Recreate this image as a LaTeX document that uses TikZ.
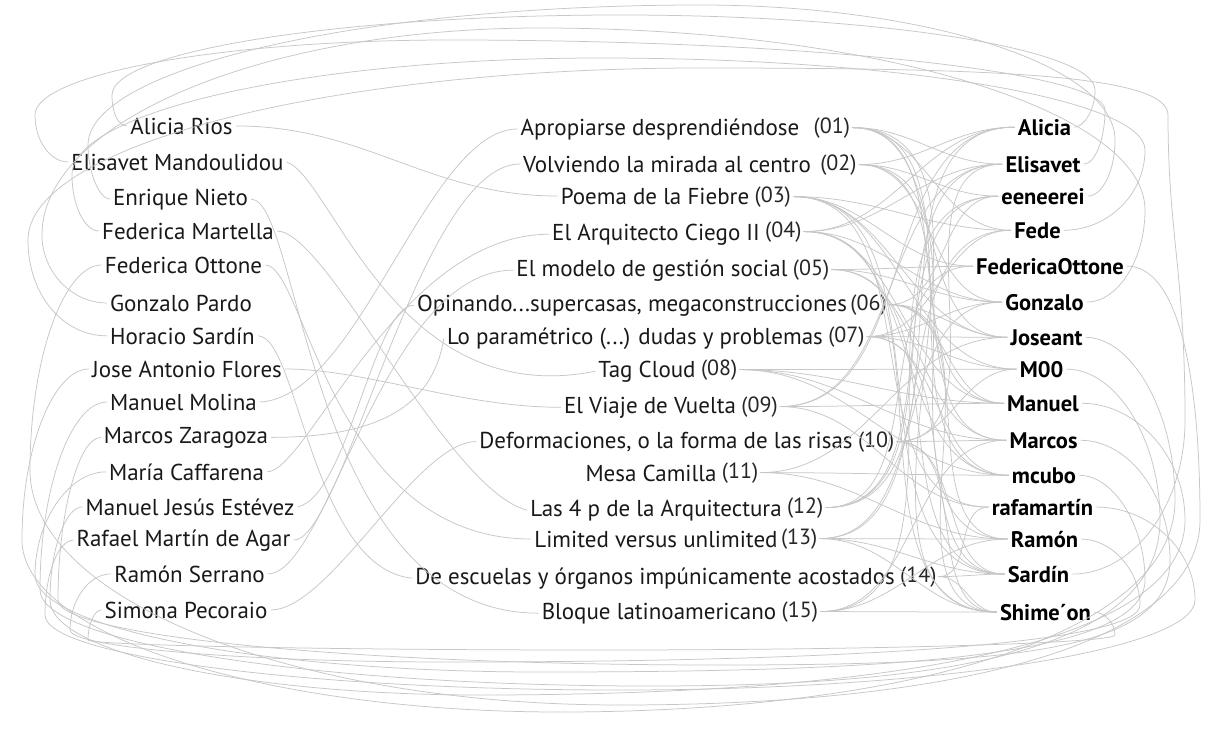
\documentclass[tikz,border=0pt]{standalone}
\usepackage{fontspec}
\setmainfont{PT Sans}
\begin{document}
\begin{tikzpicture}[x=1pt,y=-1pt,
  lname/.style={font=\fontsize{23}{26}\selectfont, text=black!90, inner sep=3pt, anchor=base},
  mname/.style={font=\fontsize{23}{26}\selectfont, text=black!90, inner sep=3pt, anchor=base},
  numlab/.style={font=\fontsize{22}{26}\selectfont, text=black!85, inner sep=2pt, anchor=base west},
  rname/.style={font=\fontsize{22.5}{26}\selectfont\bfseries, text=black, inner sep=3pt, anchor=base},
  edge/.style={draw=black!22, line width=0.75pt}]
\useasboundingbox (0,0) rectangle (1212,739);
\fill[white] (0,0) rectangle (1212,739);

% ---------- left column (authors)
\node[lname] (aRios)   at (181.5,134) {Alicia Rios};
\node[lname] (aMand)   at (177.5,170) {Elisavet Mandoulidou};
\node[lname] (aNieto)  at (180.5,205) {Enrique Nieto};
\node[lname] (aMart)   at (188,239) {Federica Martella};
\node[lname] (aOtt)    at (183.5,273) {Federica Ottone};
\node[lname] (aPardo)  at (181,311) {Gonzalo Pardo};
\node[lname] (aSardin) at (182.5,344) {Horacio Sardín};
\node[lname] (aFlores) at (187,377) {Jose Antonio Flores};
\node[lname] (aMolina) at (183.5,410) {Manuel Molina};
\node[lname] (aZara)   at (186,443) {Marcos Zaragoza};
\node[lname] (aCaff)   at (186.5,480) {María Caffarena};
\node[lname] (aEst)    at (190,515) {Manuel Jesús Estévez};
\node[lname] (aAgar)   at (183.5,546) {Rafael Martín de Agar};
\node[lname] (aSerr)   at (189.5,582) {Ramón Serrano};
\node[lname] (aPec)    at (186,618) {Simona Pecoraio};

% ---------- middle column (posts)
\node[mname] (t01) at (660,135) {Apropiarse desprendiéndose};
\node[mname] (t02) at (667,172) {Volviendo la mirada al centro};
\node[mname] (t03) at (655,204) {Poema de la Fiebre};
\node[mname] (t04) at (656,240) {El Arquitecto Ciego II};
\node[mname] (t05) at (652,276) {El modelo de gestión social};
\node[mname] (t06) at (632,311) {Opinando...supercasas, megaconstrucciones};
\node[mname] (t07) at (635,344) {Lo paramétrico (...) dudas y problemas};
\node[mname] (t08) at (647,377) {Tag Cloud};
\node[mname] (t09) at (650,413) {El Viaje de Vuelta};
\node[mname] (t10) at (666,448) {Deformaciones, o la forma de las risas};
\node[mname] (t11) at (651,481) {Mesa Camilla};
\node[mname] (t12) at (656,516) {Las 4 p de la Arquitectura};
\node[mname] (t13) at (656,547) {Limited versus unlimited};
\node[mname] (t14) at (655,584) {De escuelas y órganos impúnicamente acostados};
\node[mname] (t15) at (659,619) {Bloque latinoamericano};

\node[numlab] (n01) at ([xshift=9pt,yshift=2pt]t01.base east) {(01)};
\node[numlab] (n02) at ([xshift=4pt,yshift=2pt]t02.base east) {(02)};
\node[numlab] (n03) at ([yshift=2pt]t03.base east) {(03)};
\node[numlab] (n04) at ([yshift=3pt]t04.base east) {(04)};
\node[numlab] (n05) at ([yshift=1pt]t05.base east) {(05)};
\node[numlab] (n06) at ([xshift=-2pt,yshift=1pt]t06.base east) {(06)};
\node[numlab] (n07) at ([yshift=2pt]t07.base east) {(07)};
\node[numlab] (n08) at ([yshift=2pt]t08.base east) {(08)};
\node[numlab] (n09) at ([yshift=1pt]t09.base east) {(09)};
\node[numlab] (n10) at ([yshift=1pt]t10.base east) {(10)};
\node[numlab] (n11) at ([yshift=3pt]t11.base east) {(11)};
\node[numlab] (n12) at ([yshift=3pt]t12.base east) {(12)};
\node[numlab] (n13) at ([xshift=-2pt,yshift=3pt]t13.base east) {(13)};
\node[numlab] (n14) at ([yshift=2pt]t14.base east) {(14)};
\node[numlab] (n15) at ([yshift=2pt]t15.base east) {(15)};

% ---------- right column (commenters)
\node[rname] (rAlicia) at (1044.5,135) {Alicia};
\node[rname] (rElis)   at (1043,172) {Elisavet};
\node[rname] (rEene)   at (1043,204) {eeneerei};
\node[rname] (rFede)   at (1037.5,238) {Fede};
\node[rname] (rFO)     at (1050,274) {FedericaOttone};
\node[rname] (rGonz)   at (1044.5,310) {Gonzalo};
\node[rname] (rJose)   at (1046.5,345) {Joseant};
\node[rname] (rM00)    at (1041.5,377) {M00};
\node[rname] (rManuel) at (1043,411) {Manuel};
\node[rname] (rMarcos) at (1043.5,448) {Marcos};
\node[rname] (rMcubo)  at (1044,483) {mcubo};
\node[rname] (rRafa)   at (1042.5,515) {rafamartín};
\node[rname] (rRamon)  at (1044.5,547) {Ramón};
\node[rname] (rSardin) at (1038.5,582) {Sardín};
\node[rname] (rShim)   at (1045.5,620) {Shime´on};

% ---------- author -> post
\draw[edge] (aRios.east)   .. controls +(130,0) and +(-130,0) .. (t03.west);
\draw[edge] (aMand.east)   .. controls +(45,15) and +(-200,40) .. (t08.west);
\draw[edge] (aNieto.east)  .. controls +(50,0) and +(-230,0) .. (t15.west);
\draw[edge] (aMart.east)   .. controls +(50,0) and +(-80,-20) .. (t12.west);
\draw[edge] (aOtt.east)    .. controls +(40,0) and +(-200,0) .. (t13.west);
\draw[edge] (aSardin.east) .. controls +(40,0) and +(-100,-10) .. (t14.west);
\draw[edge] (aFlores.east) .. controls +(80,0) and +(-100,0) .. (t09.west);
\draw[edge] (aMolina.east) .. controls +(100,-5) and +(-90,0) .. (t01.west);
\draw[edge] (aZara.east)   .. controls +(120,0) and +(-10,60) .. (t07.west);
\draw[edge] (aCaff.east)   .. controls +(40,0) and +(-150,0) .. (t04.west);
\draw[edge] (aEst.east)    .. controls +(50,-10) and +(-40,0) .. (t06.west);
\draw[edge] (aAgar.east)   .. controls +(50,0) and +(-100,0) .. (t02.west);
\draw[edge] (aSerr.east)   .. controls +(60,0) and +(-130,0) .. (t05.west);
\draw[edge] (aPec.east)    .. controls +(60,0) and +(-60,0) .. (t10.west);

% ---------- post -> commenter
\foreach \a/\b in {01/rElis,01/rFede,01/rJose,01/rManuel,01/rMcubo,01/rShim,
  02/rAlicia,02/rEene,02/rGonz,02/rMarcos,02/rRamon,
  03/rFede,03/rFO,03/rJose,03/rM00,03/rRafa,03/rSardin,
  04/rAlicia,04/rGonz,04/rManuel,04/rMcubo,04/rShim,04/rElis,
  05/rFO,05/rGonz,05/rMarcos,05/rSardin,
  06/rEene,06/rJose,06/rManuel,06/rRamon,06/rShim,
  07/rFede,07/rGonz,07/rJose,07/rM00,07/rSardin,07/rMcubo,
  08/rM00,08/rManuel,08/rMarcos,08/rMcubo,
  09/rAlicia,09/rElis,09/rManuel,09/rRafa,
  10/rMarcos,10/rM00,10/rElis,10/rShim,10/rSardin,
  11/rMcubo,11/rJose,11/rRamon,
  12/rAlicia,12/rEene,12/rElis,12/rFO,
  13/rFede,13/rGonz,13/rRamon,13/rSardin,13/rShim,
  14/rShim,14/rSardin,14/rRafa,
  15/rShim,15/rMarcos,15/rRamon,15/rEene}
  \draw[edge] (n\a.east) to[out=0,in=180] (\b.west);

% ---------- commenter -> same person (loops over the top)
\draw[edge] (rAlicia.east) .. controls +(9,0) and +(0,21) .. (1095,90) .. controls +(0,-41) and +(261,0) .. (620,15) .. controls +(-279,0) and +(0,-44) .. (112,95) .. controls +(0,18) and +(-9,0) .. (aRios.west);
\draw[edge] (rElis.east) .. controls +(11,0) and +(0,30) .. (1105,110) .. controls +(0,-38) and +(360,0) .. (450,40) .. controls +(-228,0) and +(0,-41) .. (35,115) .. controls +(0,26) and +(-18,0) .. (aMand.west);
\draw[edge] (rEene.east) .. controls +(14,0) and +(0,32) .. (1115,140) .. controls +(0,-74) and +(228,0) .. (700,5) .. controls +(-337,0) and +(0,-77) .. (88,145) .. controls +(0,29) and +(-10,0) .. (aNieto.west);
\draw[edge] (rFede.east) .. controls +(43,0) and +(0,45) .. (1145,150) .. controls +(0,-51) and +(300,0) .. (600,58) .. controls +(-290,0) and +(0,-64) .. (72,175) .. controls +(0,31) and +(-14,0) .. (aMart.west);
\draw[edge] (rGonz.east) .. controls +(30,0) and +(0,51) .. (1145,210) .. controls +(0,-100) and +(333,0) .. (540,28) .. controls +(-274,0) and +(0,-114) .. (42,235) .. controls +(0,37) and +(-35,0) .. (aPardo.west);
\draw[edge] (rSardin.east) .. controls +(60,0) and +(0,87) .. (1185,420) .. controls +(0,-150) and +(0,120) .. (1168,115) .. controls +(0,-40) and +(300,0) .. (700,68) .. controls +(-370,0) and +(0,-95) .. (28,240) .. controls +(0,55) and +(-44,0) .. (aSardin.west);

% ---------- commenter -> same person (loops underneath)
\draw[edge] (rFO.east) .. controls +(50,0) and +(0,-150) .. (1200,520) .. controls +(0,120) and +(350,0) .. (620,705) .. controls +(-325,0) and +(0,130) .. (30,470) .. controls +(0,-111) and +(-38,0) .. (aOtt.west);
\draw[edge] (rJose.east) .. controls +(45,0) and +(0,-90) .. (1175,500) .. controls +(0,140) and +(330,0) .. (560,712) .. controls +(-296,0) and +(0,95) .. (22,540) .. controls +(0,-94) and +(-35,0) .. (aFlores.west);
\draw[edge] (rM00.east) .. controls +(50,0) and +(0,-80) .. (1160,520) .. controls +(0,130) and +(300,0) .. (650,686) .. controls +(-335,0) and +(0,53) .. (40,590) .. controls +(0,-102) and +(-36,0) .. (aMolina.west);
\draw[edge] (rManuel.east) .. controls +(54,0) and +(0,-64) .. (1185,520) .. controls +(0,130) and +(388,0) .. (480,695) .. controls +(-236,0) and +(0,52) .. (50,600) .. controls +(0,-51) and +(-17,0) .. (aEst.west);
\draw[edge] (rMarcos.east) .. controls +(48,0) and +(0,-65) .. (1170,560) .. controls +(0,90) and +(300,0) .. (720,665) .. controls +(-364,0) and +(0,36) .. (58,600) .. controls +(0,-87) and +(-22,0) .. (aZara.west);
\draw[edge] (rMcubo.east) .. controls +(34,0) and +(0,-55) .. (1145,580) .. controls +(0,80) and +(330,0) .. (540,672) .. controls +(-278,0) and +(0,53) .. (35,575) .. controls +(0,-54) and +(-37,0) .. (aCaff.west);
\draw[edge] (rRafa.east) .. controls +(52,0) and +(0,-51) .. (1195,600) .. controls +(0,50) and +(316,0) .. (620,690) .. controls +(-316,0) and +(0,41) .. (45,615) .. controls +(0,-41) and +(-15,0) .. (aAgar.west);
\draw[edge] (rRamon.east) .. controls +(30,0) and +(0,-35) .. (1140,605) .. controls +(0,40) and +(380,0) .. (450,662) .. controls +(-209,0) and +(0,17) .. (70,630) .. controls +(0,-30) and +(-22,0) .. (aSerr.west);
\draw[edge] (rShim.east) .. controls +(10,0) and +(0,-12) .. (1115,635) .. controls +(0,8) and +(283,0) .. (600,650) .. controls +(-281,0) and +(0,5) .. (88,640) .. controls +(0,-16) and +(-7,0) .. (aPec.west);
\end{tikzpicture}
\end{document}
